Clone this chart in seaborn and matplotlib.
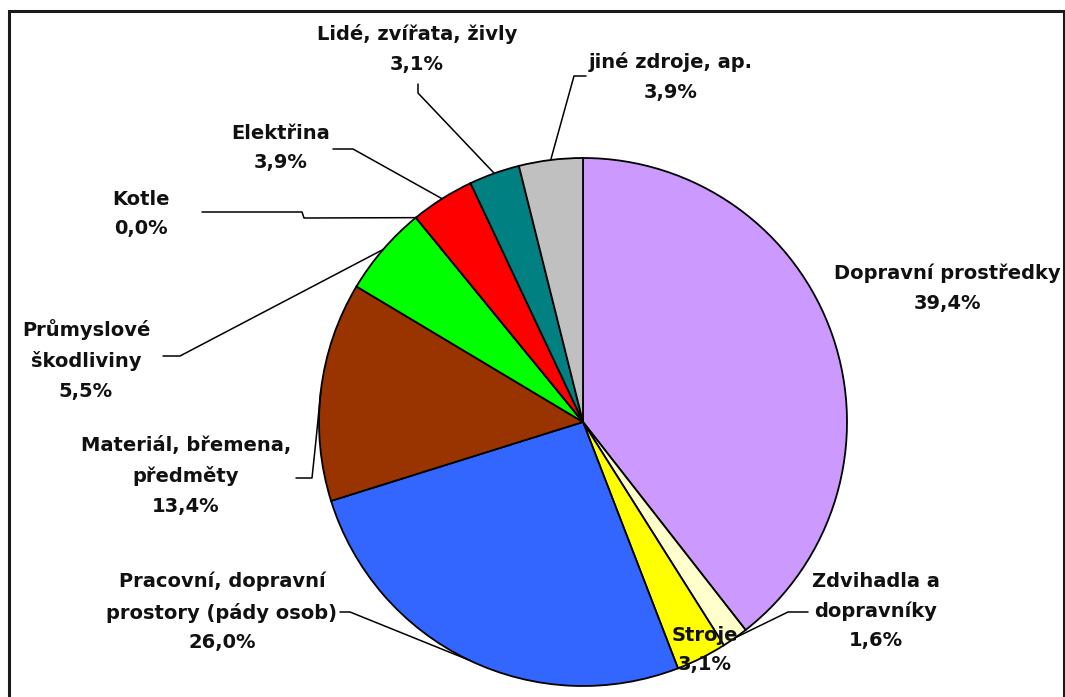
import numpy as np
import pandas as pd
import matplotlib
matplotlib.use("Agg")
import matplotlib.pyplot as plt
import matplotlib.patches as mpatches
import seaborn as sns

# ---- data ----
categories = [
    "Dopravní prostředky",
    "Zdvihadla a\ndopravníky",
    "Stroje",
    "Pracovní, dopravní\nprostory (pády osob)",
    "Materiál, břemena,\npředměty",
    "Průmyslové\nškodliviny",
    "Kotle",
    "Elektřina",
    "Lidé, zvířata, živly",
    "jiné zdroje, ap.",
]
values = [39.4, 1.6, 3.1, 26.0, 13.4, 5.5, 0.0, 3.9, 3.1, 3.9]
value_labels = ["39,4%", "1,6%", "3,1%", "26,0%", "13,4%", "5,5%", "0,0%", "3,9%", "3,1%", "3,9%"]
colors = ["#CC99FF", "#FFFFCC", "#FFFF00", "#3366FF", "#993300",
          "#00FF00", "#FFFFFF", "#FF0000", "#008080", "#C0C0C0"]

df = pd.DataFrame({"category": categories, "value": values, "label": value_labels})

# ---- layout (pixels, origin top-left) ----
W, H = 1065, 697
CX, CY, R = 583, 422, 264
label_pos = [(947, 288), (876, 611), (705, 650), (222, 612), (186, 476),
             (86, 360), (141, 214), (281, 148), (417, 49), (671, 77)]
# leader: list of pixel points from the label to an elbow (end computed on wedge)
leaders = [None,
           [(808, 612), (788, 612)],
           None,
           [(340, 612), (350, 612)],
           [(296, 478), (312, 478), (316, 440)],
           [(163, 356), (180, 356)],
           [(202, 212), (302, 212), (304, 218)],
           [(333, 149), (353, 149)],
           [(418, 84), (418, 93)],
           [(586, 76), (574, 76)]]

sns.set_theme(style="white")
plt.rcParams["font.family"] = ["DejaVu Sans"]

fig = plt.figure(figsize=(W / 100, H / 100), dpi=100)
fig.patch.set_facecolor("white")
ax = fig.add_axes([0, 0, 1, 1])

palette = sns.color_palette(colors)
wedges, _ = ax.pie(df["value"], colors=palette, startangle=90, counterclock=False,
                   center=(CX, H - CY), radius=R,
                   wedgeprops=dict(edgecolor="black", linewidth=1.3))
ax.set_xlim(0, W)
ax.set_ylim(0, H)
ax.set_aspect("auto")
ax.axis("off")

for i, w in enumerate(wedges):
    x, y = label_pos[i]
    ax.text(x, H - y, f"{df['category'][i]}\n{df['label'][i]}", ha="center", va="center",
            fontsize=14, fontweight="bold", linespacing=1.7, color="#111111", zorder=5)
    if leaders[i] is not None:
        mid = np.deg2rad((w.theta1 + w.theta2) / 2)
        ex = CX + R * np.cos(mid)
        ey = (H - CY) + R * np.sin(mid)
        xs = [p[0] for p in leaders[i]] + [ex]
        ys = [H - p[1] for p in leaders[i]] + [ey]
        ax.plot(xs, ys, color="black", lw=1.1, zorder=4)

frame = mpatches.Rectangle((9 / W, -0.02), (1064 - 9) / W, (H - 11) / H + 0.02,
                           transform=fig.transFigure, fill=False, edgecolor="#1a1a1a",
                           linewidth=2.2, clip_on=False)
fig.patches.append(frame)

fig.savefig("out.png", dpi=100, facecolor="white")
